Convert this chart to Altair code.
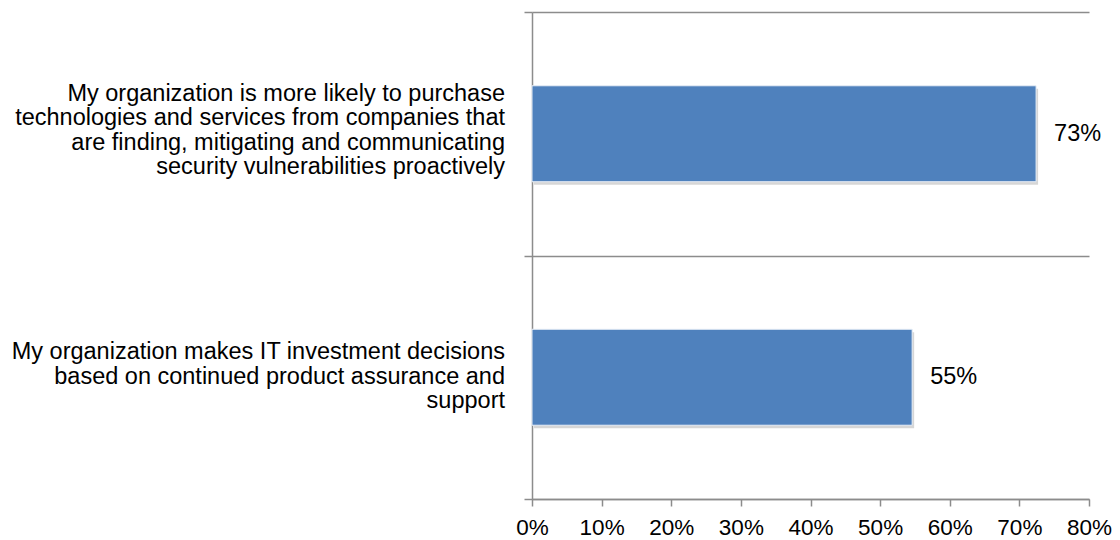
import altair as alt
import pandas as pd

categories = [
    "My organization is more likely to purchase|technologies and services from companies that|are finding, mitigating and communicating|security vulnerabilities proactively",
    "My organization makes IT investment decisions|based on continued product assurance and|support",
]
values = [72.4, 54.6]
value_labels = ["73%", "55%"]
label_shift = [-40, -25]

df = pd.DataFrame({"cat": categories, "val": values, "lab": value_labels})

FONT = "Liberation Sans, Arial, sans-serif"
GRAY = "#8c8c8c"
FS = 22.5
CAT_FS = 23.5

y_enc = alt.Y(
    "cat:N",
    sort=categories,
    scale=alt.Scale(paddingInner=0, paddingOuter=0),
    axis=alt.Axis(
        title=None,
        tickBand="extent",
        grid=True,
        gridColor=GRAY,
        gridWidth=1.5,
        tickColor=GRAY,
        tickWidth=1.5,
        tickSize=8,
        domainColor=GRAY,
        domainWidth=1.5,
        labels=False,
    ),
)

x_enc = alt.X(
    "val:Q",
    scale=alt.Scale(domain=[0, 80], nice=False),
    axis=alt.Axis(
        title=None,
        values=[0, 10, 20, 30, 40, 50, 60, 70, 80],
        labelExpr="datum.value + '%'",
        grid=False,
        domainColor=GRAY,
        domainWidth=1.5,
        tickColor=GRAY,
        tickWidth=1.5,
        tickSize=7,
        labelFont=FONT,
        labelFontSize=FS,
        labelColor="#000000",
        labelPadding=10,
        labelFlush=False,
    ),
)

BAR_H = alt.RelativeBandSize(0.394)

shadow = alt.Chart(df).mark_bar(
    color="#000000", opacity=0.16, xOffset=2, yOffset=3, height=BAR_H
).encode(x=x_enc, y=y_enc)

bars = alt.Chart(df).mark_bar(
    color="#4f81bd", stroke="#e8eef6", strokeWidth=1, height=BAR_H
).encode(x=x_enc, y=y_enc)

text = alt.Chart(df).mark_text(
    align="left", baseline="middle", dx=18, font=FONT, fontSize=CAT_FS, color="#000000"
).encode(x=x_enc, y=y_enc, text="lab:N")

cat_layers = []
for cat, shift in zip(categories, label_shift):
    cat_layers.append(
        alt.Chart(df)
        .transform_filter(alt.datum.cat == cat)
        .mark_text(
            align="right", baseline="middle", lineBreak="|", lineHeight=24.5,
            dy=shift, font=FONT, fontSize=CAT_FS, color="#000000",
        )
        .encode(x=alt.value(-27), y=y_enc, text="cat:N")
    )

chart = (
    alt.layer(shadow, bars, text, *cat_layers)
    .properties(
        width=557,
        height=487,
        autosize=alt.AutoSizeParams(type="none"),
        padding={"left": 524, "top": 4, "right": 23, "bottom": 40},
        background="white",
    )
    .configure_view(stroke=None)
)

chart.save("out.html", embed_options={"renderer": "svg", "actions": False})
